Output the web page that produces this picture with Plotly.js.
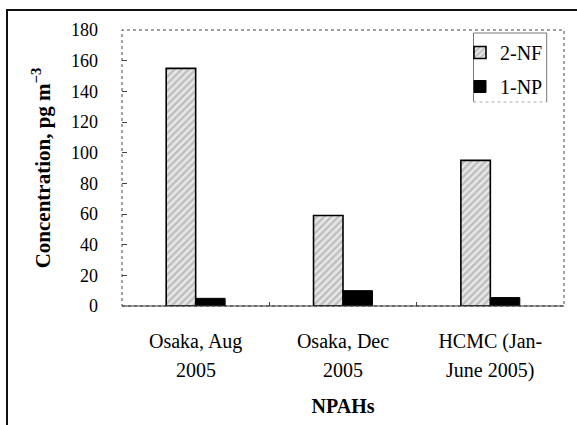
<!DOCTYPE html>
<html><head><meta charset="utf-8">
<script src="https://cdn.plot.ly/plotly-3.0.1.min.js"></script>
<style>html,body{margin:0;padding:0;background:#fff}#c{width:577px;height:425px}</style>
</head><body><div id="c"></div>
<script>
const categories = ["Osaka, Aug 2005", "Osaka, Dec 2005", "HCMC (Jan-June 2005)"];
const labelLine1 = ["Osaka, Aug", "Osaka, Dec", "HCMC (Jan-"];
const labelLine2 = ["2005", "2005", "June 2005)"];
const nf2 = [155, 59, 95];
const np1 = [5, 10, 5.5];
const yTicks = [0, 20, 40, 60, 80, 100, 120, 140, 160, 180];

const font = "'Liberation Serif', 'Times New Roman', 'DejaVu Serif', serif";
const L = 122, R = 564, T = 30, B = 306, W = 577, H = 425;
const px = x => (x - L) / (R - L);
const py = y => (B - y) / (B - T);

const traces = [
  {type: 'bar', name: '2-NF', x: categories, y: nf2, legendgroup: 'a',
   marker: {color: '#d8d8d8', line: {color: '#000', width: 1.6},
            pattern: {shape: '/', fgcolor: '#bdbdbd', bgcolor: '#e6e6e6', size: 5, solidity: 0.45}}},
  {type: 'bar', name: '1-NP', x: categories, y: np1, legendgroup: 'b',
   marker: {color: '#000', line: {color: '#000', width: 1}}}
];

const layout = {
  width: W, height: H,
  margin: {l: L, r: W - R, t: T, b: H - B},
  paper_bgcolor: '#fff', plot_bgcolor: '#fff',
  font: {family: font, color: '#000', size: 18},
  barmode: 'group', bargap: 0.6, bargroupgap: 0,
  showlegend: true,
  legend: {x: px(460), y: py(33), xanchor: 'left', yanchor: 'top',
           borderwidth: 0, bgcolor: 'rgba(0,0,0,0)',
           font: {family: font, size: 20}, tracegroupgap: 5, itemwidth: 30,
           traceorder: 'grouped'},
  xaxis: {type: 'category', tickmode: 'array', tickvals: categories, ticktext: labelLine1,
          ticks: 'inside', tickson: 'boundaries', ticklen: 4, tickcolor: '#444',
          showline: false, showgrid: false, zeroline: false,
          ticklabelstandoff: 21, tickfont: {family: font, size: 20},
          title: {text: '<b>NPAHs</b>', font: {family: font, size: 20}, standoff: 46}},
  yaxis: {range: [0, 180], tickvals: yTicks, ticks: 'inside', ticklen: 5, tickcolor: '#444',
          showline: false, showgrid: false, zeroline: false,
          ticklabelstandoff: 23, tickfont: {family: font, size: 18},
          title: {text: '<b>Concentration, pg m<sup>−3</sup></b>', font: {family: font, size: 21}, standoff: 14}},
  annotations: categories.map((c, i) => ({
    x: c, xref: 'x', y: 0, yref: 'y', yanchor: 'top', showarrow: false,
    yshift: -51, text: labelLine2[i], font: {family: font, size: 20}
  })),
  shapes: [
    {type: 'rect', xref: 'paper', yref: 'paper', x0: 0, x1: 1, y0: 0, y1: 1,
     line: {color: '#444', width: 1, dash: 'dot'}},
    {type: 'line', xref: 'paper', yref: 'paper', x0: 0, x1: 1, y0: 0, y1: 0,
     line: {color: '#333', width: 1.2}},
    {type: 'path', xref: 'paper', yref: 'paper',
     path: `M ${px(473.5)} ${py(102)} L ${px(473.5)} ${py(33)} L ${px(546.7)} ${py(33)} L ${px(546.7)} ${py(102)}`,
     line: {color: '#777', width: 1}},
    {type: 'line', xref: 'paper', yref: 'paper', x0: px(473.5), x1: px(546.7), y0: py(102), y1: py(102),
     line: {color: '#aaa', width: 1, dash: 'dot'}},
    {type: 'path', xref: 'paper', yref: 'paper',
     path: `M ${px(7)} ${py(425)} L ${px(7)} ${py(10)} L ${px(577)} ${py(10)}`,
     line: {color: '#111', width: 2}}
  ]
};

Plotly.newPlot('c', traces, layout, {displayModeBar: false, staticPlot: true});
</script></body></html>
